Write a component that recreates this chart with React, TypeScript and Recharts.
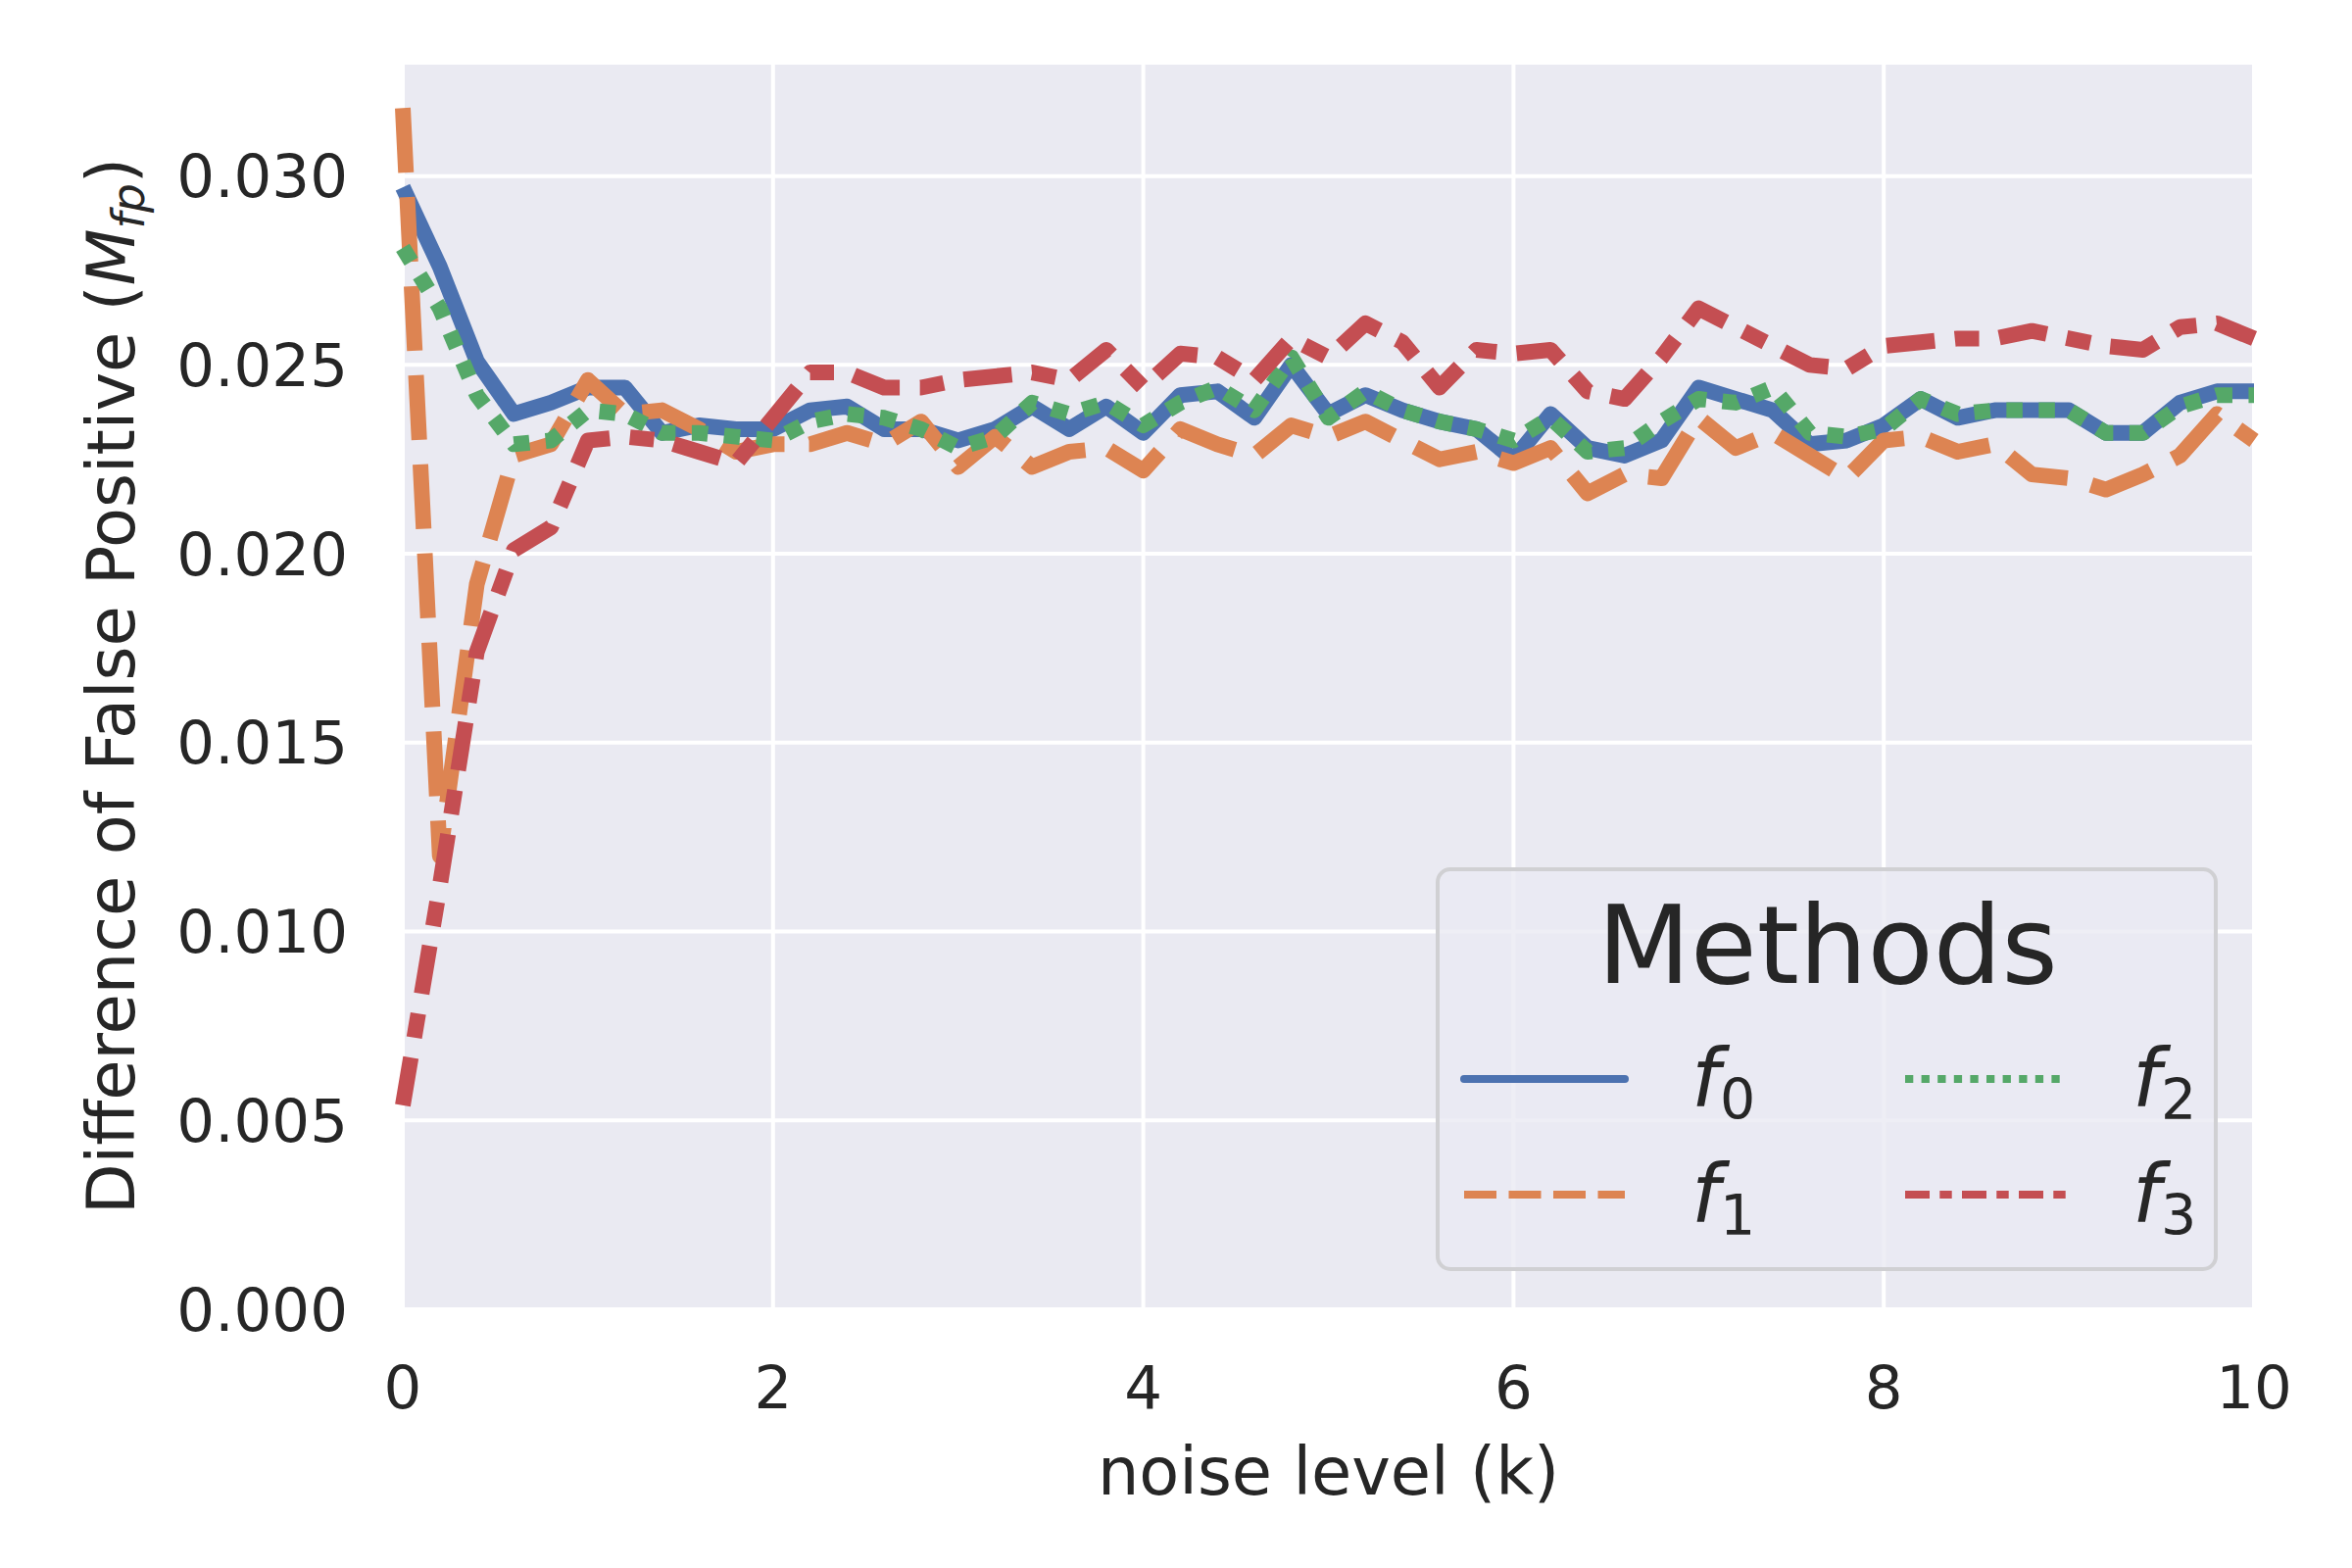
import { LineChart, Line, XAxis, YAxis, CartesianGrid, Legend, Label } from "recharts";

// noise level k, sampled every 0.2
const NOISE = [
  0, 0.2, 0.4, 0.6, 0.8, 1, 1.2, 1.4, 1.6, 1.8, 2, 2.2, 2.4, 2.6, 2.8, 3, 3.2, 3.4, 3.6, 3.8,
  4, 4.2, 4.4, 4.6, 4.8, 5, 5.2, 5.4, 5.6, 5.8, 6, 6.2, 6.4, 6.6, 6.8, 7, 7.2, 7.4, 7.6, 7.8,
  8, 8.2, 8.4, 8.6, 8.8, 9, 9.2, 9.4, 9.6, 9.8, 10,
];

const F0 = [
  0.0297, 0.0276, 0.0251, 0.0237, 0.0240, 0.0244, 0.0244, 0.0232, 0.0234, 0.0233, 0.0233,
  0.0238, 0.0239, 0.0233, 0.0233, 0.0230, 0.0233, 0.0239, 0.0233, 0.0239, 0.0232,
  0.0242, 0.0243, 0.0236, 0.0250, 0.0237, 0.0242, 0.0238, 0.0235, 0.0233, 0.0225,
  0.0237, 0.0228, 0.0226, 0.0230, 0.0244, 0.0241, 0.0238, 0.0229, 0.0230, 0.0234,
  0.0241, 0.0236, 0.0238, 0.0238, 0.0238, 0.0232, 0.0232, 0.0240, 0.0243, 0.0243,
];

const F1 = [
  0.0318, 0.0120, 0.0192, 0.0226, 0.0229, 0.0246, 0.0237, 0.0238, 0.0233, 0.0227, 0.0229,
  0.0229, 0.0232, 0.0229, 0.0235, 0.0223, 0.0231, 0.0223, 0.0227, 0.0228, 0.0222,
  0.0233, 0.0229, 0.0226, 0.0234, 0.0231, 0.0235, 0.0230, 0.0225, 0.0227, 0.0224,
  0.0228, 0.0216, 0.0221, 0.0220, 0.0236, 0.0228, 0.0232, 0.0226, 0.0220, 0.0230,
  0.0231, 0.0227, 0.0229, 0.0221, 0.0220, 0.0217, 0.0221, 0.0226, 0.0237, 0.0230,
];

const F2 = [
  0.0281, 0.0265, 0.0242, 0.0229, 0.0230, 0.0238, 0.0237, 0.0232, 0.0232, 0.0231, 0.0230,
  0.0235, 0.0237, 0.0236, 0.0233, 0.0228, 0.0231, 0.0240, 0.0237, 0.0240, 0.0234,
  0.0240, 0.0244, 0.0238, 0.0252, 0.0236, 0.0243, 0.0238, 0.0235, 0.0233, 0.0230,
  0.0236, 0.0227, 0.0228, 0.0235, 0.0241, 0.0240, 0.0244, 0.0232, 0.0231, 0.0233,
  0.0241, 0.0237, 0.0238, 0.0238, 0.0238, 0.0232, 0.0232, 0.0239, 0.0242, 0.0242,
];

const F3 = [
  0.0054, 0.0112, 0.0174, 0.0201, 0.0207, 0.0230, 0.0231, 0.0230, 0.0227, 0.0224, 0.0236,
  0.0248, 0.0248, 0.0244, 0.0244, 0.0246, 0.0247, 0.0248, 0.0246, 0.0254, 0.0244,
  0.0253, 0.0252, 0.0246, 0.0257, 0.0252, 0.0261, 0.0256, 0.0244, 0.0254, 0.0253,
  0.0254, 0.0243, 0.0241, 0.0252, 0.0265, 0.0260, 0.0255, 0.0250, 0.0249, 0.0255,
  0.0256, 0.0257, 0.0257, 0.0259, 0.0257, 0.0255, 0.0254, 0.0260, 0.0261, 0.0257,
];

const X_TICKS = [0, 2, 4, 6, 8, 10];
const Y_TICKS = [0, 0.005, 0.01, 0.015, 0.02, 0.025, 0.03];

const FONT = "DejaVu Sans";
const INK = "#262626";

// seaborn "deep" palette + lineplot style dashes (scaled by line width)
const SERIES = [
  { key: "f0", sub: "0", color: "#4C72B0", dash: undefined, legendDash: undefined },
  { key: "f1", sub: "1", color: "#DD8452", dash: "66 25", legendDash: "33 12.5" },
  { key: "f2", sub: "2", color: "#55A868", dash: "16.5 16.5", legendDash: "8.3 8.3" },
  { key: "f3", sub: "3", color: "#C44E52", dash: "49.5 20.6 24.8 20.6", legendDash: "25 10.3 12.4 10.3" },
];

const rows = NOISE.map((k, i) => ({ k, f0: F0[i], f1: F1[i], f2: F2[i], f3: F3[i] }));

function YLabel(props: any) {
  const vb = props.viewBox || { y: 64, height: 1272 };
  const cx = 137;
  const cy = vb.y + vb.height / 2;
  return (
    <text
      x={cx}
      y={cy}
      transform={`rotate(-90, ${cx}, ${cy})`}
      textAnchor="middle"
      fontFamily={FONT}
      fontSize={67}
      fill={INK}
    >
      Difference of False Positive (
      <tspan fontStyle="italic">M</tspan>
      <tspan fontStyle="italic" fontSize={47} dy={10}>fp</tspan>
      <tspan dy={-10}>)</tspan>
    </text>
  );
}

function MethodsLegend() {
  // legend box is 798 x 412, laid out in two columns
  const cols = [29, 479];
  const rowsY = [216, 334];
  return (
    <svg width={798} height={412} style={{ display: "block" }}>
      <rect x={2} y={2} width={794} height={408} rx={13} ry={13}
        fill="rgba(234,234,242,0.8)" stroke="#D0D0D3" strokeWidth={4} />
      <text x={400} y={118} textAnchor="middle" fontFamily={FONT} fontSize={110} fill={INK}>
        Methods
      </text>
      {SERIES.map((s, i) => {
        const cx = cols[Math.floor(i / 2)];
        const cy = rowsY[i % 2];
        return (
          <g key={s.key}>
            <line x1={cx} x2={cx + 164} y1={cy} y2={cy} stroke={s.color} strokeWidth={8}
              strokeDasharray={s.legendDash} strokeLinecap={s.legendDash ? "butt" : "round"} />
            <text x={cx + 232} y={cy + 27} fontFamily={FONT} fill={INK}>
              <tspan fontStyle="italic" fontSize={82}>f</tspan>
              <tspan fontSize={57} dy={14}>{s.sub}</tspan>
            </text>
          </g>
        );
      })}
    </svg>
  );
}

export default function App() {
  return (
    <div style={{ position: "absolute", left: 0, top: 0, width: 2400, height: 1600, background: "#fff" }}>
      <LineChart width={2400} height={1600} data={rows} margin={{ top: 64, right: 100, bottom: 0, left: 0 }}>
        <CartesianGrid fill="#EAEAF2" stroke="#FFFFFF" strokeWidth={4} />
        <XAxis
          dataKey="k"
          type="number"
          domain={[0, 10]}
          ticks={X_TICKS}
          height={264}
          axisLine={false}
          tickLine={false}
          tickSize={0}
          tickMargin={58}
          tick={{ fontSize: 61, fill: INK, fontFamily: FONT }}
          label={{ value: "noise level (k)", position: "insideBottom", offset: 75, fontSize: 67, fill: INK, fontFamily: FONT }}
        />
        <YAxis
          type="number"
          domain={[0, 0.033]}
          ticks={Y_TICKS}
          width={411}
          axisLine={false}
          tickLine={false}
          tickSize={0}
          tickMargin={56}
          tickFormatter={(v: number) => v.toFixed(3)}
          tick={{ fontSize: 61, fill: INK, fontFamily: FONT }}
        >
          <Label content={YLabel} />
        </YAxis>
        {SERIES.map((s) => (
          <Line
            key={s.key}
            type="linear"
            dataKey={s.key}
            stroke={s.color}
            strokeWidth={16}
            strokeDasharray={s.dash}
            strokeLinejoin="round"
            strokeLinecap="butt"
            dot={false}
            activeDot={false}
            isAnimationActive={false}
          />
        ))}
        <Legend
          layout="horizontal"
          align="center"
          verticalAlign="middle"
          content={() => <MethodsLegend />}
          wrapperStyle={{ left: 1465, top: 885, width: 798, height: 412 }}
        />
      </LineChart>
    </div>
  );
}
